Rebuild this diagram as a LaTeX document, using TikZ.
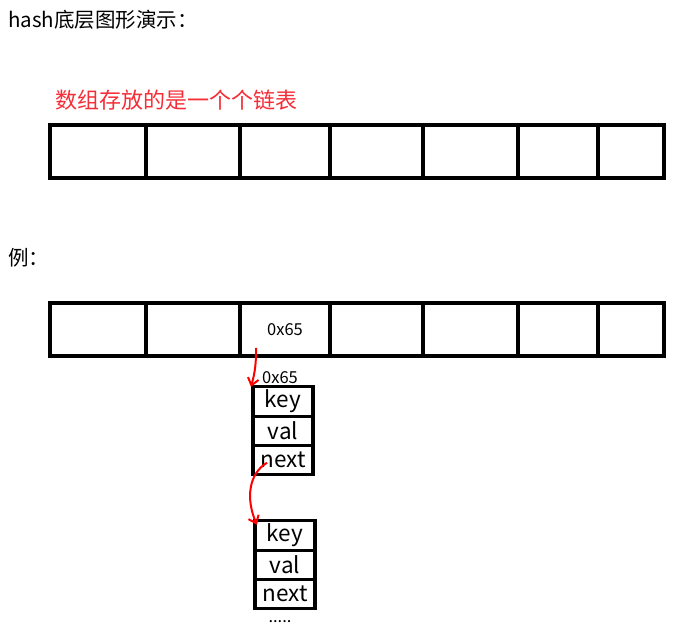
\documentclass[tikz,border=0pt]{standalone}
\usepackage{fontspec}
\setmainfont{Noto Sans CJK SC}
\usetikzlibrary{positioning, arrows.meta, calc}
\definecolor{hint}{RGB}{245,45,55}

\begin{document}
\begin{tikzpicture}[
        x=1pt, y=-1pt,
        cell/.style={draw, rectangle, line width=3.2pt, minimum height=53pt, inner sep=0pt, outer sep=0pt},
        field/.style={draw, rectangle, line width=3.2pt, minimum width=60pt, minimum height=29.3pt, inner sep=0pt, outer sep=0pt, font=\fontsize{22.5}{22}\selectfont},
        addr/.style={font=\fontsize{16.5}{16}\selectfont},
        caption/.style={anchor=west, inner sep=0pt, font=\fontsize{20.5}{24}\selectfont},
        link/.style={-{Straight Barb[length=7pt, width=11pt]}, red, line width=2pt}
    ]
    \useasboundingbox (0,0) rectangle (678,636);

    \node[caption] (Title) at (8,20) {hash底层图形演示：};
    \node[caption, text=hint, font=\fontsize{22}{26}\selectfont] (Note) at (55,100) {数组存放的是一个个链表};
    \node[caption] (Example) at (8,258) {例：};

    % the two arrays
    \foreach \i/\a/\b in {1/50/146, 2/146/240, 3/240/330, 4/330/423, 5/423/518, 6/518/598, 7/598/664} {
        \node[cell, minimum width={(\b-\a)*1pt}] (A\i) at ({(\a+\b)/2}, 151.5) {};
        \node[cell, minimum width={(\b-\a)*1pt}] (B\i) at ({(\a+\b)/2}, 329.5) {};
    }
    \node[addr] (Addr1) at (B3) {0x65};

    % first list entry
    \node[field] (Key1) at (283,401.5) {key};
    \node[field, below=0pt of Key1] (Val1) {val};
    \node[field, below=0pt of Val1] (Next1) {next};
    \node[addr, above=0pt of Key1, xshift=-3pt] (Addr2) {0x65};

    % second list entry
    \node[field] (Key2) at (285,535.5) {key};
    \node[field, below=0pt of Key2] (Val2) {val};
    \node[field, below=0pt of Val2] (Next2) {next};
    \node[addr, inner sep=0pt, below=11pt of Next2, xshift=-5pt] (More) {.....};

    \draw[link] ($(B3.south west)+(16,-8)$) to[bend left=8] ([xshift=-2pt]Key1.north west);
    \draw[link] ($(Next1.south west)+(14,-12)$) .. controls (248,474) and (246,500) .. ([xshift=2pt,yshift=-4pt]Key2.north west);

\end{tikzpicture}
\end{document}
